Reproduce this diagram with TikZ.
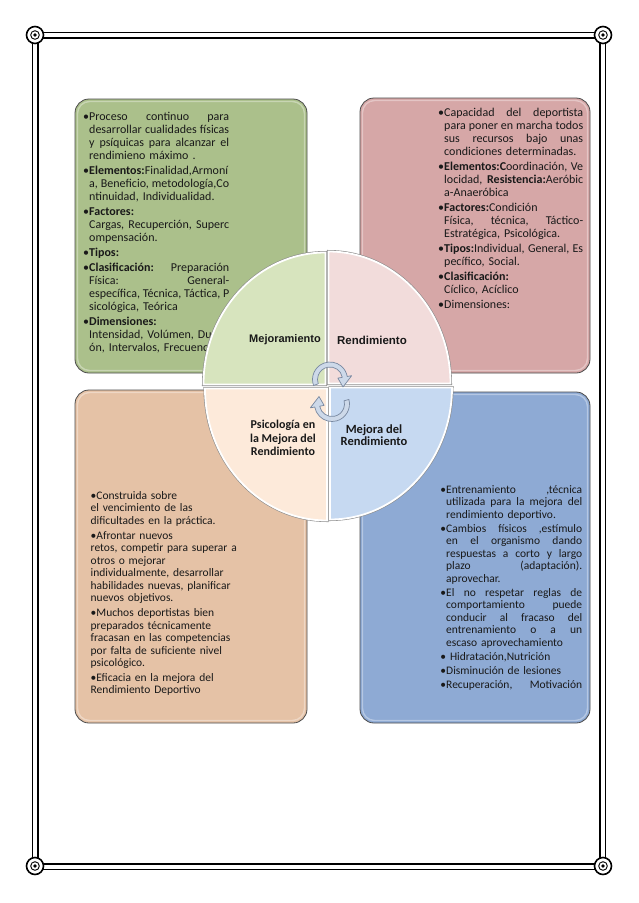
\documentclass[tikz,border=0pt]{standalone}
\usepackage{fontspec}
\setmainfont{Carlito}
\newfontfamily\lsans{Liberation Sans}
\setlength{\parindent}{0pt}
\newcommand\bul{\leavevmode\llap{•}}
\definecolor{gbox}{RGB}{171,192,139}
\definecolor{pbox}{RGB}{214,167,167}
\definecolor{obox}{RGB}{229,194,166}
\definecolor{bbox}{RGB}{142,170,212}
\definecolor{gq}{RGB}{215,228,190}
\definecolor{pq}{RGB}{242,220,219}
\definecolor{oq}{RGB}{253,234,218}
\definecolor{bq}{RGB}{198,217,241}
\definecolor{arrfill}{RGB}{205,217,233}
\definecolor{arrdraw}{RGB}{120,136,160}
\definecolor{txtc}{RGB}{25,25,25}
\begin{document}
\begin{tikzpicture}[x=1pt,y=1pt,yscale=-1]
\tikzset{
  box/.style={draw=black!70, line width=0.8pt, rounded corners=14pt},
  bevel/.style={draw=white, draw opacity=0.35, line width=1.4pt, rounded corners=12pt},
  quadedge/.style={draw=black!45, line width=3pt},
  quad/.style={draw=white, line width=1.8pt},
  txt/.style={anchor=north west, inner sep=0pt, align=left, text=txtc},
  lbl/.style={inner sep=0pt, align=center, text=txtc},
  arr/.style={fill=arrfill, draw=arrdraw, line width=0.7pt, line join=round},
  ring/.style={draw=black, fill=white}
}
\useasboundingbox (0,0) rectangle (638,903);
\fill[white] (0,0) rectangle (638,903);

% page border
\draw[line width=1.2pt] (32.5,32.5) rectangle (605.5,869.5);
\draw[line width=2.6pt] (38,38) rectangle (600,864);
\foreach \cx/\cy in {35/35,603/35,35/866,603/866}{
  \draw[ring, line width=1.6pt] (\cx,\cy) circle[radius=8.5pt];
  \draw[line width=0.9pt] (\cx,\cy) circle[radius=4.3pt];
  \fill (\cx,\cy) circle[radius=1.8pt];
}

% outer boxes
\draw[box, fill=gbox] (75,99) rectangle (307,373);
\draw[box, fill=pbox] (360,98) rectangle (590,373);
\draw[box, fill=obox] (75,390) rectangle (307,723);
\draw[box, fill=bbox] (360,392) rectangle (590,723);
\draw[bevel] (77.5,101.5) rectangle (304.5,370.5);
\draw[bevel] (362.5,100.5) rectangle (587.5,370.5);
\draw[bevel] (77.5,392.5) rectangle (304.5,720.5);
\draw[bevel] (362.5,394.5) rectangle (587.5,720.5);

% box texts
\node[txt, text width=140pt, font={\fontsize{12}{13}\selectfont}] (tg) at (89,110) {\setlength{\parskip}{2pt}\rule{0pt}{10pt}%
\bul Proceso\hfill continuo\hfill para\\
desarrollar\hfill cualidades\hfill físicas\\
y\hfill psíquicas\hfill para\hfill alcanzar\hfill el\\
rendimieno máximo .\par
\bul\textbf{Elementos:}Finalidad,Armoní\\
a,\hfill Beneficio,\hfill metodología,Co\\
ntinuidad, Individualidad.\par
\bul\textbf{Factores:}\\
Cargas,\hfill Recuperción,\hfill Superc\\
ompensación.\par
\bul\textbf{Tipos:}\par
\bul\textbf{Clasificación:}\hfill Preparación\\
Física:\hfill General-\\
específica,\hfill Técnica,\hfill Táctica,\hfill P\\
sicológica, Teórica\par
\bul\textbf{Dimensiones:}\\
Intensidad,\hfill Volúmen,\hfill Duraci\\
ón, Intervalos, Frecuencia};

\node[txt, text width=139pt, font={\fontsize{12}{13}\selectfont}] (tp) at (444,106) {\setlength{\parskip}{2pt}\rule{0pt}{10pt}%
\bul Capacidad\hfill del\hfill deportista\\
para\hfill poner\hfill en\hfill marcha\hfill todos\\
sus\hfill recursos\hfill bajo\hfill unas\\
condiciones determinadas.\par
\bul\textbf{Elementos:C}oordinación,\hfill Ve\\
locidad,\hfill \textbf{Resistencia:}Aeróbic\\
a-Anaeróbica\par
\bul\textbf{Factores:}Condición\\
Física,\hfill técnica,\hfill Táctico-\\
Estratégica, Psicológica.\par
\bul\textbf{Tipos:}Individual,\hfill General,\hfill Es\\
pecífico, Social.\par
\bul\textbf{Clasificación:}\\
Cíclico, Acíclico\par
\bul Dimensiones:};

\node[txt, text width=160pt, font={\fontsize{11.5}{12.5}\selectfont}] (to) at (90.5,489) {\setlength{\parskip}{2.4pt}\rule{0pt}{10pt}%
•Construida sobre\\
el vencimiento de las\\
dificultades en la práctica.\par
•Afrontar nuevos\\
retos, competir para superar a\\
otros o mejorar\\
individualmente, desarrollar\\
habilidades nuevas, planificar\\
nuevos objetivos.\par
•Muchos deportistas bien\\
preparados técnicamente\\
fracasan en las competencias\\
por falta de suficiente nivel\\
psicológico.\par
•Eficacia en la mejora del\\
Rendimiento Deportivo};

\node[txt, text width=136pt, font={\fontsize{11.5}{12.5}\selectfont}] (tb) at (446,483) {\setlength{\parskip}{1.5pt}\rule{0pt}{10pt}%
\bul Entrenamiento\hfill ,técnica\\
utilizada\hfill para\hfill la\hfill mejora\hfill del\\
rendimiento deportivo.\par
\bul Cambios\hfill físicos\hfill ,estímulo\\
en\hfill el\hfill organismo\hfill dando\\
respuestas\hfill a\hfill corto\hfill y\hfill largo\\
plazo\hfill (adaptación).\\
aprovechar.\par
\bul El\hfill no\hfill respetar\hfill reglas\hfill de\\
comportamiento\hfill puede\\
conducir\hfill al\hfill fracaso\hfill del\\
entrenamiento\hfill o\hfill a\hfill un\\
escaso aprovechamiento\par
\bul\ Hidratación,Nutrición\par
\bul Disminución de lesiones\par
\bul Recuperación,\hfill Motivación};

% central circle (four quadrants)
\path[quadedge] (325.5,384.5) -- ++(-122,0) arc[start angle=180,end angle=270,x radius=122pt,y radius=132pt] -- cycle;
\path[quadedge] (328.5,383.5) -- ++(0,-132) arc[start angle=270,end angle=360,x radius=122pt,y radius=132pt] -- cycle;
\path[quadedge] (330,387.5) -- ++(122,0) arc[start angle=0,end angle=90,x radius=122pt,y radius=132pt] -- cycle;
\path[quadedge] (327,388.5) -- ++(0,132) arc[start angle=90,end angle=180,x radius=122pt,y radius=132pt] -- cycle;

\path[quad, fill=gq] (325.5,384.5) -- ++(-122,0) arc[start angle=180,end angle=270,x radius=122pt,y radius=132pt] -- cycle;
\path[quad, fill=pq] (328.5,383.5) -- ++(0,-132) arc[start angle=270,end angle=360,x radius=122pt,y radius=132pt] -- cycle;
\path[quad, fill=bq] (330,387.5) -- ++(122,0) arc[start angle=0,end angle=90,x radius=122pt,y radius=132pt] -- cycle;
\path[quad, fill=oq] (327,388.5) -- ++(0,132) arc[start angle=90,end angle=180,x radius=122pt,y radius=132pt] -- cycle;

% quadrant labels
\node[lbl, font={\lsans\bfseries\fontsize{11}{12}\selectfont}] (l1) at (285,340) {Mejoramiento};
\node[lbl, font={\lsans\bfseries\fontsize{11.5}{13}\selectfont}] (l2) at (372,340) {Rendimiento};
\node[lbl, font={\bfseries\fontsize{12}{13.5}\selectfont}] (l3) at (283,438) {Psicología en\\la Mejora del\\Rendimiento};
\node[lbl, font={\bfseries\fontsize{12.5}{12.5}\selectfont}] (l4) at (374,435) {Mejora del\\Rendimiento};

% cycle arrows
\begin{scope}[shift={(330,379.5)}]
\draw[arr] (160:17.5pt) arc[start angle=160,end angle=350,radius=17.5pt] -- (350:22pt) -- (30:15pt) -- (350:8pt) -- (350:12.5pt) arc[start angle=350,end angle=160,radius=12.5pt] -- cycle;
\end{scope}
\begin{scope}[shift={(332,404)}]
\draw[arr] (-15:17.5pt) arc[start angle=-15,end angle=170,radius=17.5pt] -- (170:22pt) -- (210:15pt) -- (170:8pt) -- (170:12.5pt) arc[start angle=170,end angle=-15,radius=12.5pt] -- cycle;
\end{scope}
\end{tikzpicture}
\end{document}
